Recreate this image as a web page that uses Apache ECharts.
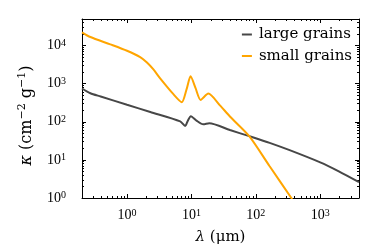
<!DOCTYPE html>
<html>
<head>
<meta charset="utf-8">
<script src="https://cdn.jsdelivr.net/npm/echarts@6/dist/echarts.min.js"></script>
<style>
html,body{margin:0;padding:0;background:#fff;}
#chart{width:390px;height:250px;}
</style>
</head>
<body>
<div id="chart"></div>
<script>
// ---- data ----
const seriesNames = ['large grains', 'small grains'];
const lambdaLarge = [0.2, 0.27, 0.39, 1.0, 2.3, 6.7, 8.0, 8.8, 9.8, 12.0, 15.3, 18.9, 39.6, 79, 164, 335, 1000, 1944, 4000];
const kappaLarge  = [750, 562, 462, 280, 181, 103, 78, 107, 141, 107, 86, 92, 61, 42, 28, 18, 8.6, 5.0, 2.6];
const lambdaSmall = [0.2, 0.27, 0.55, 1.0, 1.6, 2.04, 2.55, 3.27, 5.25, 7.1, 8.4, 9.7, 11.6, 13.9, 18.3, 27.7, 39.6, 79, 164, 356, 400];
const kappaSmall  = [22400, 16800, 10800, 7330, 5010, 3610, 2410, 1380, 531, 327, 708, 1567, 763, 376, 550, 271, 138, 42, 6.8, 1.0, 0.74];

// ---- axis ranges and tick labels ----
const xRange = [0.2, 4000];
const yRange = [1, 50000];
const xMajorExp = [0, 1, 2, 3];
const yMajorExp = [0, 1, 2, 3, 4];
const minorMult = [2, 3, 4, 5, 6, 7, 8, 9];

function minorLogs(range) {
  const out = [];
  const lo = Math.floor(Math.log10(range[0])), hi = Math.ceil(Math.log10(range[1]));
  for (let d = lo; d <= hi; d++) {
    minorMult.forEach(m => {
      const v = m * Math.pow(10, d);
      if (v >= range[0] - 1e-9 && v <= range[1] + 1e-9) out.push(Math.log10(v));
    });
  }
  return out;
}

const tickFont = 'Liberation Serif';
const textFont = 'DejaVu Serif';
const black = '#000';

function powLabel(v) {
  const e = Math.log10(v);
  const r = Math.round(e);
  if (Math.abs(e - r) > 1e-6) return '';
  return '{b|10}{s|' + r + '}';
}
const labelRich = {
  b: {fontFamily: tickFont, fontSize: 14, lineHeight: 15, color: black},
  s: {fontFamily: tickFont, fontSize: 10, lineHeight: 10, verticalAlign: 'top', color: black}
};

function helperAxis(range, position, values, len, showLine) {
  return {
    type: 'value', min: Math.log10(range[0]), max: Math.log10(range[1]),
    position: position, silent: true,
    axisLine: {show: showLine, onZero: false, lineStyle: {color: black, width: 1}},
    axisTick: {show: true, inside: true, length: len, customValues: values, lineStyle: {color: black, width: 1}},
    axisLabel: {show: false},
    splitLine: {show: false}
  };
}

const chart = echarts.init(document.getElementById('chart'), null, {renderer: 'canvas'});
chart.setOption({
  backgroundColor: '#fff',
  animation: false,
  grid: {left: 82, right: 31, top: 19, bottom: 43, containLabel: false},
  legend: {
    orient: 'vertical', right: 33, top: 22, itemGap: 6.5,
    icon: 'rect', itemWidth: 10, itemHeight: 2,
    textStyle: {fontFamily: textFont, fontSize: 15, color: black, lineHeight: 15, padding: [0, 0, 0, 2]},
    data: seriesNames
  },
  xAxis: [
    {
      type: 'log', logBase: 10, min: xRange[0], max: xRange[1], position: 'bottom',
      axisLine: {show: true, onZero: false, lineStyle: {color: black, width: 1}},
      axisTick: {show: true, inside: true, length: 4, lineStyle: {color: black, width: 1}},
      axisLabel: {formatter: powLabel, rich: labelRich, margin: 10, showMinLabel: false, showMaxLabel: false},
      splitLine: {show: false},
      name: '{i|λ} (μm)', nameLocation: 'middle', nameGap: 32,
      nameTextStyle: {fontFamily: textFont, fontSize: 15, color: black,
        rich: {i: {fontFamily: textFont, fontStyle: 'italic', fontSize: 15, color: black}}}
    },
    helperAxis(xRange, 'bottom', minorLogs(xRange), 2, false),
    helperAxis(xRange, 'top', xMajorExp, 4, true),
    helperAxis(xRange, 'top', minorLogs(xRange), 2, false)
  ],
  yAxis: [
    {
      type: 'log', logBase: 10, min: yRange[0], max: yRange[1], position: 'left',
      axisLine: {show: true, onZero: false, lineStyle: {color: black, width: 1}},
      axisTick: {show: true, inside: true, length: 4, lineStyle: {color: black, width: 1}},
      axisLabel: {formatter: powLabel, rich: labelRich, margin: 16, showMinLabel: true, showMaxLabel: false},
      splitLine: {show: false},
      name: '{i|κ} (cm{s|−2} g{s|−1})', nameLocation: 'middle', nameGap: 32,
      nameTextStyle: {fontFamily: textFont, fontSize: 16, color: black, lineHeight: 19, padding: [0, 14, 0, 0],
        rich: {
          i: {fontFamily: textFont, fontStyle: 'italic', fontSize: 16, lineHeight: 19, color: black},
          s: {fontFamily: textFont, fontSize: 11, lineHeight: 11, verticalAlign: 'top', color: black}
        }}
    },
    helperAxis(yRange, 'left', minorLogs(yRange), 2, false),
    helperAxis(yRange, 'right', yMajorExp, 4, true),
    helperAxis(yRange, 'right', minorLogs(yRange), 2, false)
  ],
  series: [
    {
      name: seriesNames[0], type: 'line', xAxisIndex: 0, yAxisIndex: 0,
      data: lambdaLarge.map((x, i) => [x, kappaLarge[i]]),
      showSymbol: false, symbol: 'none', smooth: 0.25,
      lineStyle: {color: '#474747', width: 2}, itemStyle: {color: '#474747'}
    },
    {
      name: seriesNames[1], type: 'line', xAxisIndex: 0, yAxisIndex: 0,
      data: lambdaSmall.map((x, i) => [x, kappaSmall[i]]),
      showSymbol: false, symbol: 'none', smooth: 0.25,
      lineStyle: {color: '#ffa500', width: 2}, itemStyle: {color: '#ffa500'}
    }
  ]
});
</script>
</body>
</html>
